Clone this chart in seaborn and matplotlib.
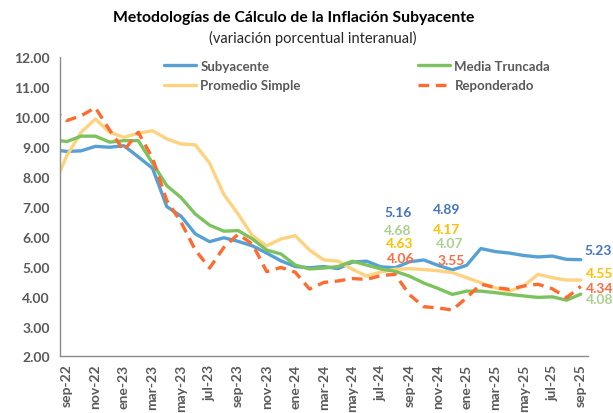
import matplotlib
matplotlib.use("Agg")
import matplotlib.pyplot as plt
from matplotlib.ticker import FixedLocator
import seaborn as sns
import pandas as pd

# months: ago-22 sits just left of the axis (only a sliver of line shows)
meses = ["ago-22", "sep-22", "oct-22", "nov-22", "dic-22",
         "ene-23", "feb-23", "mar-23", "abr-23", "may-23", "jun-23", "jul-23", "ago-23",
         "sep-23", "oct-23", "nov-23", "dic-23",
         "ene-24", "feb-24", "mar-24", "abr-24", "may-24", "jun-24", "jul-24", "ago-24",
         "sep-24", "oct-24", "nov-24", "dic-24",
         "ene-25", "feb-25", "mar-25", "abr-25", "may-25", "jun-25", "jul-25", "ago-25",
         "sep-25"]

subyacente = [8.90, 8.84, 8.86, 9.01, 8.98, 9.03, 8.66, 8.28, 7.00, 6.68, 6.09, 5.83, 5.96,
              5.84, 5.69, 5.45, 5.19, 5.00, 4.96, 5.00, 4.93, 5.15, 5.18, 4.99, 4.96,
              5.16, 5.22, 5.04, 4.89, 5.04, 5.60, 5.50, 5.45, 5.37, 5.32, 5.35, 5.24, 5.23]
media_truncada = [9.23, 9.17, 9.35, 9.35, 9.15, 9.20, 9.20, 8.45, 7.70, 7.30, 6.75, 6.38, 6.18,
                  6.20, 5.92, 5.55, 5.42, 5.05, 4.92, 4.95, 5.00, 5.18, 5.05, 4.92, 4.84,
                  4.68, 4.45, 4.27, 4.07, 4.18, 4.18, 4.13, 4.07, 4.02, 3.97, 3.99, 3.88, 4.08]
promedio_simple = [7.60, 8.70, 9.48, 9.92, 9.48, 9.31, 9.45, 9.53, 9.26, 9.09, 9.06, 8.45, 7.40,
                   6.75, 6.03, 5.69, 5.92, 6.03, 5.55, 5.22, 5.18, 4.91, 4.68, 4.82, 4.91,
                   4.93, 4.90, 4.86, 4.80, 4.63, 4.46, 4.29, 4.18, 4.35, 4.74, 4.63, 4.55, 4.55]
reponderado = [10.25, 9.87, 10.03, 10.30, 9.55, 8.87, 9.48, 8.62, 7.20, 6.48, 5.55, 4.95, 5.64,
               6.08, 5.75, 4.83, 4.97, 4.81, 4.25, 4.47, 4.52, 4.60, 4.57, 4.70, 4.74,
               4.06, 3.66, 3.62, 3.55, 3.96, 4.41, 4.30, 4.24, 4.35, 4.41, 4.26, 3.96, 4.34]

series = ["Subyacente", "Promedio Simple", "Media Truncada", "Reponderado"]
colores = {"Subyacente": "#56A0D3", "Promedio Simple": "#FFD280",
           "Media Truncada": "#7CC35E", "Reponderado": "#FF6A2F"}

# value labels written on the chart
etiquetas = ["5.16", "4.68", "4.63", "4.06", "4.89", "4.17", "4.07", "3.55",
             "5.23", "4.55", "4.34", "4.08"]
etiq_col = ["#4472C4", "#A9D18E", "#FFC000", "#FF6A3D", "#4472C4", "#FFC000", "#A9D18E", "#FF6A3D",
            "#4472C4", "#FFC000", "#FF6A3D", "#A9D18E"]
etiq_x = [23.2, 23.2, 23.3, 23.4, 26.6, 26.6, 26.8, 26.9, 37.2, 37.3, 37.3, 37.3]
etiq_y = [6.83, 6.23, 5.78, 5.28, 6.93, 6.26, 5.78, 5.22, 5.56, 4.78, 4.30, 3.93]

pos = list(range(-1, len(meses) - 1))
df = pd.DataFrame({"pos": pos, "mes": meses,
                   "Subyacente": subyacente, "Media Truncada": media_truncada,
                   "Promedio Simple": promedio_simple, "Reponderado": reponderado})
largo = df.melt(id_vars=["pos", "mes"], value_vars=series, var_name="serie", value_name="valor")

sns.set_style("white")
plt.rcParams["font.family"] = ["Lato", "DejaVu Sans"]
gris = "#595959"

fig = plt.figure(figsize=(6.13, 4.14), dpi=100)
ax = fig.add_axes([0.0974, 0.1365, 0.8617, 0.7241])

for s in series:
    d = largo[largo["serie"] == s]
    sns.lineplot(data=d, x="pos", y="valor", ax=ax, color=colores[s], linewidth=2.4,
                 label=s, linestyle=(0, (3.2, 2.0)) if s == "Reponderado" else "-")

ax.set_xlim(-0.5, 36.5)
ax.set_ylim(2, 12)
ax.set_yticks(range(2, 13))
ax.set_yticklabels([f"{v:.2f}" for v in range(2, 13)], fontsize=10, fontweight="bold", color=gris)
ax.set_xticks(pos[1::2])
ax.set_xticklabels(meses[1::2], rotation=90, fontsize=10, fontweight="bold", color=gris)
ax.xaxis.set_minor_locator(FixedLocator([p - 0.5 for p in pos[1::2]]))
ax.tick_params(axis="x", which="major", length=0, pad=5)
ax.tick_params(axis="x", which="minor", length=4, width=1, color="#8C8C8C", direction="out")
ax.tick_params(axis="y", length=4, width=1, color="#8C8C8C", direction="out", pad=3)
ax.set_xlabel("")
ax.set_ylabel("")
sns.despine(ax=ax)
for sp in ["left", "bottom"]:
    ax.spines[sp].set_color("#8C8C8C")
    ax.spines[sp].set_linewidth(1)

h, l = ax.get_legend_handles_labels()
leg = ax.legend(h, l, ncol=2, loc="upper left", bbox_to_anchor=(164 / 613, 1 - 61 / 414),
                bbox_transform=fig.transFigure, frameon=False, borderpad=0, borderaxespad=0,
                handlelength=2.4, handletextpad=0.35, columnspacing=8.9, labelspacing=0.55,
                prop={"weight": "bold", "size": 9.5})
for t in leg.get_texts():
    t.set_color(gris)

for txt, c, x, y in zip(etiquetas, etiq_col, etiq_x, etiq_y):
    ax.text(x, y, txt, color=c, fontsize=10, fontweight="bold", ha="center", va="center",
            clip_on=False)

fig.text(0.479, 1 - 18 / 414, "Metodologías de Cálculo de la Inflación Subyacente",
         ha="center", va="center", fontsize=11.3, fontweight="bold", color="black")
fig.text(0.51, 1 - 38 / 414, "(variación porcentual interanual)",
         ha="center", va="center", fontsize=10.5, color="#262626")

fig.savefig("out.png", dpi=100)
